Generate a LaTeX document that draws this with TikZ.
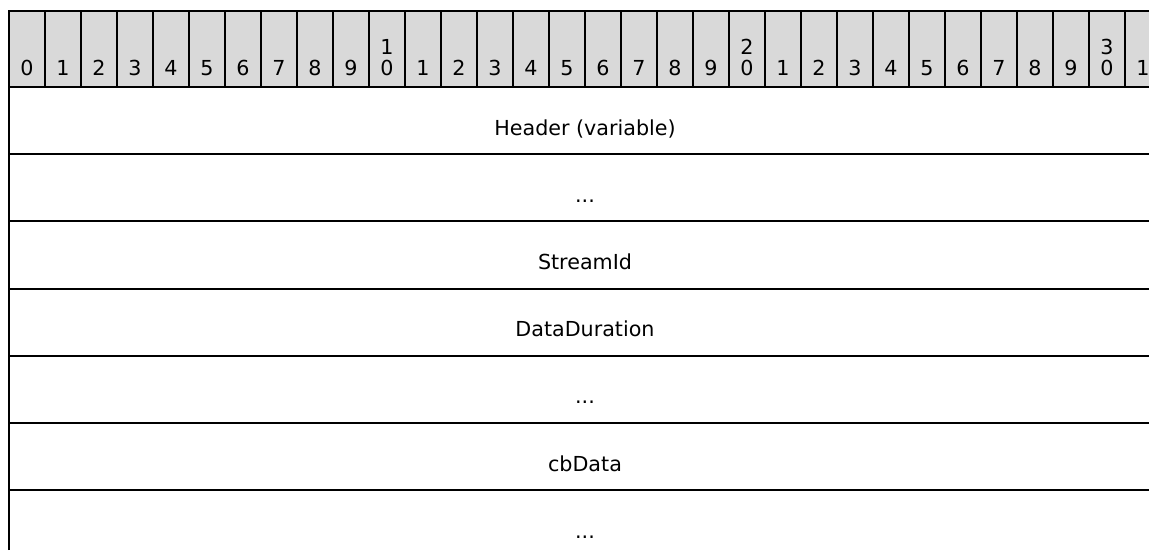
\documentclass[tikz,border=0pt]{standalone}
\usepackage{fontspec}
\setmainfont{DejaVu Sans}
\usepackage{xcolor}
\usepackage{tikz}
\usetikzlibrary{positioning}
\definecolor{rulerfill}{RGB}{217,217,217}
\newcommand{\elide}{.\kern0pt.\kern0pt.}

\begin{document}
\begin{tikzpicture}[x=0.75pt, y=-0.75pt, font=\fontsize{15.5}{18}\selectfont,
    bitcell/.style={draw, line width=1.1pt, fill=rulerfill},
    border/.style={line width=1.5pt},
    bitlabel/.style={anchor=base, inner sep=0pt}]
  \clip (0,0) rectangle (1149,550);
  % bit ruler
  \foreach \i in {0,...,31} {
    \pgfmathtruncatemacro{\ones}{mod(\i,10)}
    \pgfmathtruncatemacro{\tens}{div(\i,10)}
    \draw[bitcell] ({9+36*\i},11) rectangle ({45+36*\i},87);
    \node[bitlabel] (bit\i) at ({27+36*\i},75.5) {\ones};
    \ifnum\ones=0 \ifnum\tens>0
      \node[bitlabel] (bit\i tens) at ({27+36*\i},54.5) {\tens};
    \fi\fi
  }
  \draw[border] (9,550) -- (9,11) -- (1161,11);
  \draw[border] (9,87) -- (1161,87);
  % fields
  \foreach \name [count=\k from 0] in {{Header (variable)}, \elide, StreamId,
      DataDuration, \elide, cbData, \elide} {
    \node[anchor=base, inner sep=0pt] (field\k) at (585,{87+67.2*\k+48}) {\name};
    \draw[border] (9,{87+67.2*(\k+1)}) -- (1161,{87+67.2*(\k+1)});
  }
\end{tikzpicture}
\end{document}
